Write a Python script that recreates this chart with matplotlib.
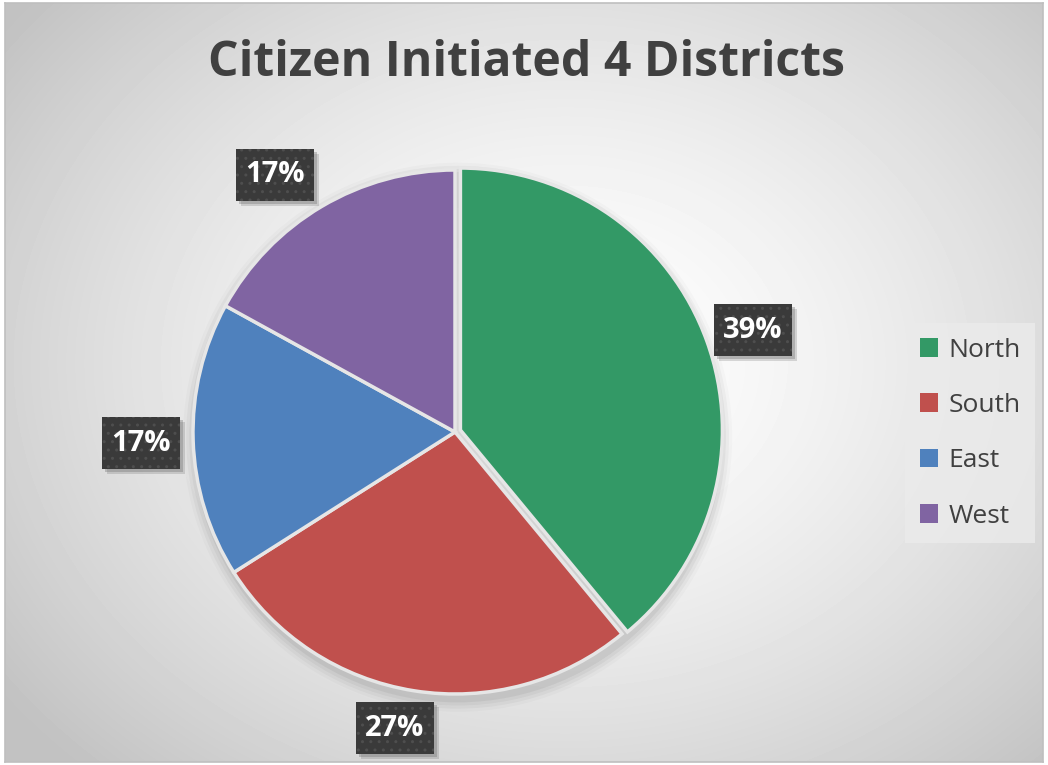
import numpy as np
import matplotlib
matplotlib.use("Agg")
import matplotlib.pyplot as plt
from matplotlib.patches import Circle, Rectangle

# Data
districts = ["North", "South", "East", "West"]
shares = [39, 27, 17, 17]
colors = ["#339966", "#C0504D", "#4F81BD", "#8064A2"]
label_texts = ["39%", "27%", "17%", "17%"]
explode = [0.022, 0, 0, 0]

W, H = 1048, 765
fig = plt.figure(figsize=(W / 100, H / 100), dpi=100)
fig.patch.set_facecolor("white")

# Radial gradient background inside a thin frame
bg = fig.add_axes([5 / W, 3 / H, 1038 / W, 759 / H])
yy, xx = np.mgrid[0:759, 0:1038]
cx, cy = 560, 360
d = np.sqrt(((xx - cx) / 700.0) ** 2 + ((yy - cy) / 560.0) ** 2)
val = 1.0 - 0.24 * np.clip(d, 0, 1) ** 1.5
bg.imshow(val, cmap="gray", vmin=0, vmax=1, extent=(0, 1038, 759, 0),
          interpolation="bilinear", aspect="auto")
bg.set_xlim(0, 1038)
bg.set_ylim(759, 0)
for s in bg.spines.values():
    s.set_edgecolor("#bfbfbf")
    s.set_linewidth(1.2)
bg.set_xticks([])
bg.set_yticks([])

# Pie axes: centre ~ (455, 432) px, radius ~ 262 px
r_px = 262
pcx, pcy = 455, 432
half = 340
ax = fig.add_axes([(pcx - half) / W, 1 - (pcy + half) / H, 2 * half / W, 2 * half / H])

# soft shadow under the pie
for k, a in enumerate([0.05, 0.04, 0.03, 0.02]):
    ax.add_patch(Circle((0.01, -0.02), 1.0 + 0.012 * (k + 1), color="black",
                        alpha=a, lw=0, zorder=0))

wedges, _ = ax.pie(shares, colors=colors, startangle=90, counterclock=False,
                   explode=explode, radius=1.0,
                   wedgeprops=dict(edgecolor="#e6e6e6", linewidth=2.5))
for w in wedges:
    w.set_zorder(2)
ax.set_xlim(-half / r_px, half / r_px)
ax.set_ylim(-half / r_px, half / r_px)
ax.set_aspect("equal")
ax.axis("off")

# Data labels: dark patterned boxes with a soft drop shadow
label_pos = [(753, 330), (395, 728), (141, 443), (275, 175)]
box_w, box_h = 78, 52
for (lx, ly), txt in zip(label_pos, label_texts):
    x0 = (lx - box_w / 2) / W
    y0 = 1 - (ly + box_h / 2) / H
    for k, a in enumerate([0.35, 0.25]):
        off = 3 + 2 * k
        fig.patches.append(Rectangle((x0 + off / W, y0 - off / H), box_w / W, box_h / H,
                                     transform=fig.transFigure, facecolor="#707070",
                                     edgecolor="none", alpha=a, zorder=4))
    fig.patches.append(Rectangle((x0, y0), box_w / W, box_h / H,
                                 transform=fig.transFigure, facecolor="#3a3a3a",
                                 edgecolor="#4e4e4e", hatch="..", linewidth=0,
                                 zorder=5))
    fig.text(lx / W, 1 - ly / H, txt, ha="center", va="center", fontsize=21,
             fontweight="bold", family="Open Sans", color="white", zorder=6)

# Title
fig.text(527 / W, 1 - 64 / H, "Citizen Initiated 4 Districts", ha="center",
         va="center", fontsize=34.7, fontweight="bold", family="Open Sans",
         color="#404040")

# Legend
leg = fig.legend(wedges, districts, loc="upper left",
                 bbox_to_anchor=(905 / W, 1 - 323 / H),
                 frameon=True, fancybox=False,
                 prop=dict(family="Open Sans", size=19),
                 handlelength=0.7, handleheight=0.7, handletextpad=0.4,
                 labelspacing=1.15, borderpad=0.55, borderaxespad=0)
leg.get_frame().set_facecolor("#ebebeb")
leg.get_frame().set_edgecolor("none")
leg.get_frame().set_alpha(0.8)
for t in leg.get_texts():
    t.set_color("#404040")
for h in leg.legend_handles:
    h.set_edgecolor("none")

fig.savefig("out.png", dpi=100)
